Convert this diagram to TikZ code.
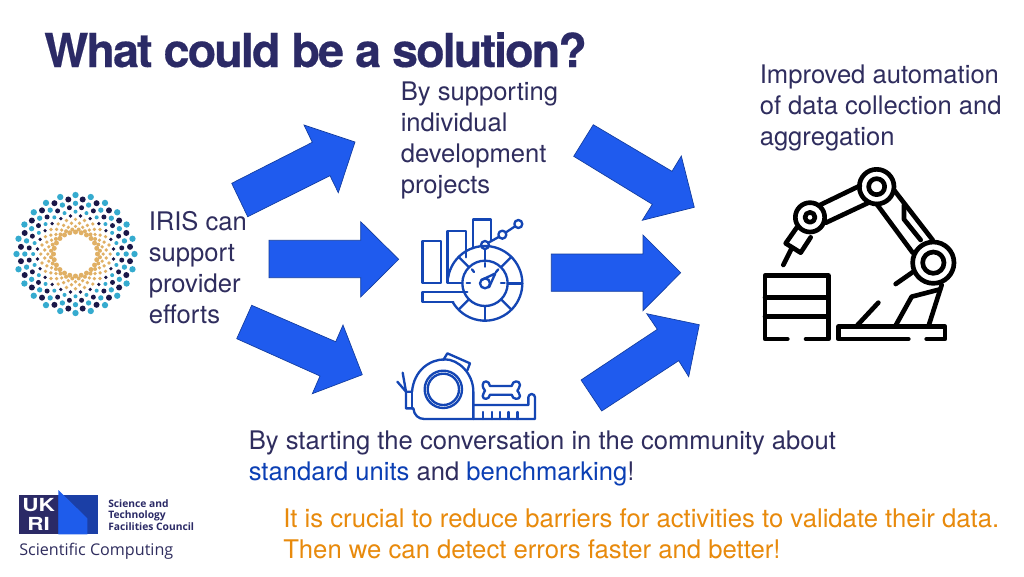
\documentclass[tikz,border=0pt]{standalone}
\usepackage{fontspec}
\setmainfont{TeX Gyre Heros}
\newfontfamily\logofont{Open Sans}
\newfontfamily\titlefont[LetterSpace=-4.1,FakeBold=0.4]{TeX Gyre Heros Bold}
\definecolor{navy}{HTML}{2B2A66}
\definecolor{body}{HTML}{2F2D5E}
\definecolor{arrowblue}{HTML}{1F5BEE}
\definecolor{arrowedge}{HTML}{123C9E}
\definecolor{icon}{HTML}{1446B4}
\definecolor{link}{HTML}{0B3FB4}
\definecolor{orangetxt}{HTML}{E88A0C}
\definecolor{irisc}{HTML}{35ABCF}
\definecolor{irisd}{HTML}{1A1748}
\definecolor{irist}{HTML}{E0B065}
\definecolor{ukblue}{HTML}{1E5CEB}
\definecolor{ukdark}{HTML}{1B3FA6}
\tikzset{
  bigarrow/.style={fill=arrowblue,draw=arrowedge,line width=.5pt,line join=miter},
  txt/.style={anchor=north west,inner sep=0pt,align=left,text=body,font=\fontsize{19.2}{23.2}\selectfont},
  iconline/.style={draw=icon,line width=1.75pt,line cap=round,line join=round},
  robot/.style={draw=black,line width=3.5pt,line cap=round,line join=round},
}
\begin{document}
\begin{tikzpicture}[x=.75pt,y=-.75pt]
\useasboundingbox (0,0) rectangle (1024,576);
\fill[white] (0,0) rectangle (1024,576);

% title
\node[anchor=base west,inner sep=0pt,text=navy,font=\titlefont\fontsize{35}{38}\selectfont] (title) at (44,67) {What could be a solution?};

% texts
\node[txt] (t1) at (400.5,82) {By supporting\\individual\\development\\projects};
\node[txt] (t2) at (759.5,65) {Improved automation\\of data collection and\\aggregation};
\node[txt] (t3) at (148.5,211) {IRIS can\\support\\provider\\efforts};
\node[txt] (t4) at (248.5,431) {By starting the conversation in the community about\\\textcolor{link}{standard units} and \textcolor{link}{benchmarking}!};
\node[txt,text=orangetxt,font=\fontsize{19.26}{23.2}\selectfont] (t5) at (283,508) {It is crucial to reduce barriers for activities to validate their data.\\Then we can detect errors faster and better!};

% arrows
\path[bigarrow] (231.7,183.3)--(247.7,216.7)--(330,175.7)--(338.3,192.7)--(355,142)--(304,125)--(312.3,142.3)--cycle;
\path[bigarrow] (269,240.3)--(269,277.7)--(360.7,277.7)--(360.7,297)--(398.7,259.3)--(360.7,221.7)--(360.7,240.3)--cycle;
\path[bigarrow] (251.7,305.3)--(236.7,338.7)--(320,376)--(312.3,393.7)--(362.3,374.7)--(343,325)--(335.7,341.7)--cycle;
\path[bigarrow] (593.3,124.7)--(573.7,156.3)--(652.3,204.3)--(642.3,220.3)--(694.3,207.3)--(681.3,156)--(672,171.3)--cycle;
\path[bigarrow] (551.3,254)--(551.3,291.3)--(643,291.3)--(643,310.7)--(680.7,272.7)--(643,235)--(643,254)--cycle;
\path[bigarrow] (581,380)--(601.7,411)--(678.7,360.7)--(688.7,376.7)--(699.3,324.7)--(646.7,313.7)--(657.3,329.3)--cycle;

% IRIS logo
\begin{scope}[shift={(75.5,254)},x=.25pt,y=.25pt]
\foreach \r/\s/\o/\c in {177/9.5/0/irisc,165/9/7.5/irisd,152/8/0/irisc,140/7.5/7.5/irisd,127/6/0/irisc,115/5.5/7.5/irisd,104/5.5/0/irist,93/5.5/7.5/irist,83/5.5/0/irist,74/6/7.5/irist,66/7.5/0/irist}{
  \foreach \k in {0,...,23}{
    \fill[\c] ({\o+15*\k}:\r) circle[radius=\s];
  }
}
\end{scope}

% gauge + tape icons
\begin{scope}[shift={(390,200)},x=.25pt,y=-.25pt]
\path[iconline] (97,122) rectangle (153,248);
\path[iconline] (217,248)--(172,248)--(172,93)--(228,93)--(228,172);
\path[iconline] (248,145)--(248,58)--(302,58)--(302,120);
\path[iconline] (232,275)--(97,275)--(97,305)--(190,305);
\path[iconline] (188,306) arc[start angle=210,end angle=532,radius=112,y radius=-112];
\path[iconline] (285,250) circle[radius=68];
\path[iconline] (285,147)--(285,182);
\path[iconline] (285,318)--(285,362);
\path[iconline] (353,250)--(397,250);
\path[iconline] (333,202)--(364,171);
\path[iconline] (333,298)--(364,329);
\path[iconline] (237,202)--(206,171);
\path[iconline] (237,298)--(206,329);
\path[iconline] (285,135) circle[radius=12];
\path[iconline] (337,104) circle[radius=12];
\path[iconline] (385,72) circle[radius=12];
\path[iconline] (297,127)--(326,111);
\path[iconline] (348,97)--(375,79);
\path[iconline] (275,240)--(316,220)--(297,262);
\path[iconline] (285,250) circle[radius=15];
\path[iconline] (285,189)--(285,200);
\path[iconline] (246,208)--(252,216);
\path[iconline] (325,208)--(318,216);
\path[iconline] (230,248)--(240,248);
\path[iconline] (333,248)--(344,248);
% tape
\path[iconline] (66,575) .. controls (72,510) and (120,478) .. (165,478) .. controls (205,478) and (250,520) .. (250,575)--(250,657);
\path[iconline] (66,575)--(48,575)--(48,625)--(70,625) .. controls (72,645) and (85,657) .. (103,657)--(435,657)--(435,592) arc[start angle=0,end angle=180,radius=10,y radius=-10]--(415,615)--(250,615);
\path[iconline] (66,575)--(66,625);
\path[iconline] (22,545)--(48,575);
\path[iconline] (38,518)--(48,575);
\path[iconline] (160,568) circle[radius=56];
\path[iconline] (160,568) circle[radius=47];
\path[iconline] (160,480)--(172,460)--(240,490)--(232,511);
\path[iconline] (300,558) .. controls (298,540) and (278,540) .. (278,555) .. controls (278,565) and (285,570) .. (285,572) .. controls (285,575) and (278,580) .. (278,588) .. controls (278,600) and (298,600) .. (300,584)--(365,584) .. controls (367,600) and (390,600) .. (390,588) .. controls (390,578) and (382,575) .. (382,572) .. controls (382,568) and (390,565) .. (390,555) .. controls (390,540) and (367,540) .. (365,558)--cycle;
\foreach \x in {278,305,330,355,382}{\path[iconline] (\x,657)--(\x,636);}
\end{scope}

% robot
\begin{scope}[shift={(750,160)},x=.25pt,y=-.25pt]
\path[robot] (380,80) circle[radius=52];
\path[robot] (380,80) circle[radius=24];
\path[robot] (180,172) circle[radius=44];
\path[robot] (180,172) circle[radius=15];
\path[robot] (550,308) circle[radius=62];
\path[robot] (550,308) circle[radius=32];
\path[robot] (210,135)--(330,77);
\path[robot] (228,188)--(358,127);
\path[robot] (380,132)--(488,278);
\path[robot] (432,90)--(548,240);
\path[robot] (462,135)--(462,178)--(512,240);
\path[robot] (140,203)--(107,250)--(152,278)--(182,232);
\path[robot] (125,265)--(100,315);
\path[robot] (490,335)--(437,372);
\path[robot] (112,537)--(45,537)--(45,347)--(235,347)--(235,537)--(168,537);
\path[robot] (45,412)--(235,412);
\path[robot] (45,470)--(235,470);
\path[robot] (475,537)--(265,537)--(265,500)--(585,500)--(585,537)--(530,537);
\path[robot] (318,500)--(385,428);
\path[robot] (435,500)--(485,410)--(570,388);
\path[robot] (535,500)--(575,375);
\end{scope}

% UKRI logo
\begin{scope}[shift={(0,480)},x=.25pt,y=-.25pt]
\fill[navy] (57,45) rectangle (175,163);
\fill[ukdark] (175,45) rectangle (295,163);
\fill[ukblue] (175,30)--(262,115)--(262,163)--(175,163)--cycle;
\node[inner sep=0pt,xscale=1.25,text=white,font=\fontsize{13.5}{13.5}\selectfont\bfseries] (ukrow) at (116,76) {UK};
\node[inner sep=0pt,xscale=1.25,text=white,font=\fontsize{13.5}{13.5}\selectfont\bfseries] (rirow) at (116,132) {RI};
\node[anchor=north west,inner sep=0pt,align=left,text=navy,font=\logofont\fontsize{7.7}{8.8}\selectfont\bfseries] (stfc) at (324,57) {Science and\\Technology\\Facilities Council};
\node[anchor=base west,inner sep=0pt,text=body,font=\logofont\fontsize{12.1}{14}\selectfont] (sc) at (57,226) {Scientific Computing};
\end{scope}
\end{tikzpicture}
\end{document}
